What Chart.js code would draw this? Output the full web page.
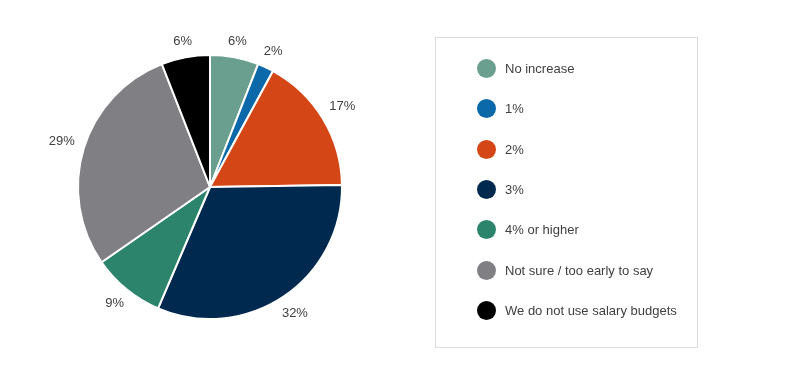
<!DOCTYPE html>
<html>
<head>
    <title>Salary budget increase</title>
    <script src="https://cdn.jsdelivr.net/npm/chart.js"></script>
    <style>
        body { margin: 0; background: #fff; font-family: "Liberation Sans", Arial, sans-serif; }
        #wrap { position: relative; width: 800px; height: 385px; }
        #legendBox {
            position: absolute; left: 435px; top: 37px; width: 263px; height: 311px;
            border: 1px solid #dcdcdc; box-sizing: border-box;
        }
        #legendBox .item {
            position: absolute; left: 41px; height: 20px; line-height: 20px;
            font-size: 13px; color: #404040; white-space: nowrap;
        }
        #legendBox .dot {
            display: inline-block; width: 19px; height: 19px; border-radius: 50%;
            vertical-align: middle; margin-right: 9px; position: relative; top: -1px;
        }
    </style>
</head>
<body>
<div id="wrap">
    <canvas id="pieChart" width="800" height="385"></canvas>
    <div id="legendBox"></div>
</div>
<script>
// chart data
const categories = ['No increase', '1%', '2%', '3%', '4% or higher', 'Not sure / too early to say', 'We do not use salary budgets'];
const shares = [6, 2, 17, 32, 9, 29, 6];
const sliceColors = ['#6a9e8e', '#0b69aa', '#d54616', '#00294f', '#2d846d', '#808084', '#000000'];

// percent labels just outside each slice (box edge kept a fixed gap from the rim)
const outsideLabels = {
    id: 'outsideLabels',
    afterDatasetsDraw(chart) {
        const ctx = chart.ctx;
        const meta = chart.getDatasetMeta(0);
        ctx.save();
        ctx.font = '13px "Liberation Sans", Arial, sans-serif';
        ctx.fillStyle = '#404040';
        ctx.textAlign = 'center';
        ctx.textBaseline = 'middle';
        meta.data.forEach((arc, i) => {
            const p = arc.getProps(['x', 'y', 'startAngle', 'endAngle', 'outerRadius'], true);
            const mid = (p.startAngle + p.endAngle) / 2;
            const txt = shares[i] + '%';
            const w = ctx.measureText(txt).width;
            const cx = Math.cos(mid), sy = Math.sin(mid);
            const r = p.outerRadius + 9 + Math.abs(cx) * w / 2 + Math.abs(sy) * 5;
            ctx.fillText(txt, p.x + cx * r, p.y + sy * r);
        });
        ctx.restore();
    }
};

new Chart(document.getElementById('pieChart'), {
    type: 'pie',
    data: {
        labels: categories,
        datasets: [{
            data: shares,
            backgroundColor: sliceColors,
            borderColor: '#ffffff',
            borderWidth: 2,
            radius: 132
        }]
    },
    options: {
        responsive: false,
        animation: false,
        layout: { padding: { left: 0, right: 380, top: 0, bottom: 11 } },
        plugins: {
            legend: { display: false },
            tooltip: { enabled: false }
        }
    },
    plugins: [outsideLabels]
});

// legend box
const box = document.getElementById('legendBox');
categories.forEach((name, i) => {
    const row = document.createElement('div');
    row.className = 'item';
    row.style.top = (21 + i * 40.3) + 'px';
    row.innerHTML = '<span class="dot" style="background:' + sliceColors[i] + '"></span>' + name;
    box.appendChild(row);
});
</script>
</body>
</html>
